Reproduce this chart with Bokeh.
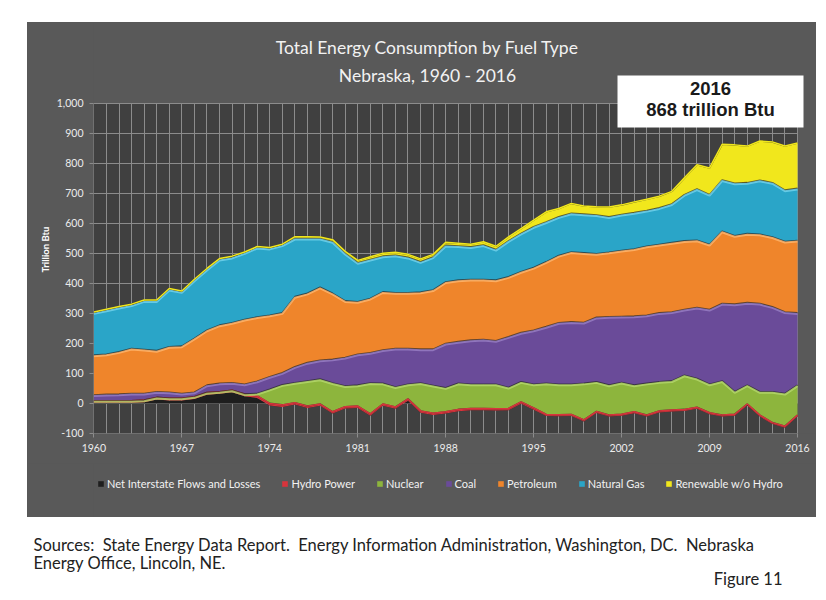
import numpy as np
from bokeh.plotting import figure
from bokeh.models import (ColumnDataSource, FixedTicker, NumeralTickFormatter, Label, Title,
                          BoxAnnotation, Legend, LegendItem, Range1d, Spacer)
from bokeh.layouts import column, row
from bokeh.embed import file_html
from bokeh.resources import INLINE

# ---------------- data (trillion Btu) ----------------
years = list(range(1960, 2017))
x_tick_years = [1960, 1967, 1974, 1981, 1988, 1995, 2002, 2009, 2016]
y_ticks = list(range(-100, 1001, 100))

net_interstate = [2, 2, 2, 2, 4, 13, 10, 10, 15, 29, 32, 37, 24, 18, -7, -12, -4, -15, -8, -34,
                  -17, -15, -41, -8, -18, 9, -31, -39, -34, -26, -23, -23, -24, -23, -1, -21, -42, -43, -42, -60,
                  -32, -44, -41, -33, -44, -30, -27, -25, -18, -36, -44, -41, -7, -44, -69, -81, -44]
hydro = [7, 7, 7, 7, 7, 7, 7, 7, 7, 7, 7, 7, 7, 7, 7, 7, 6, 6, 6, 6,
         6, 6, 6, 6, 6, 6, 6, 6, 6, 6, 6, 6, 6, 6, 6, 6, 5, 5, 5, 5,
         5, 5, 5, 5, 5, 5, 5, 5, 5, 5, 5, 5, 5, 5, 5, 5, 5]
nuclear = [0, 0, 0, 0, 0, 0, 0, 0, 0, 0, 0, 0, 0, 8, 47, 67, 67, 84, 83, 96,
           69, 70, 103, 69, 67, 49, 93, 93, 80, 87, 81, 81, 82, 70, 67, 79, 104, 102, 101, 122,
           99, 100, 106, 89, 106, 97, 97, 114, 96, 95, 114, 75, 63, 78, 103, 109, 100]
coal = [19, 21, 22, 24, 22, 19, 20, 16, 15, 25, 28, 25, 33, 41, 42, 40, 53, 61, 63, 79,
        95, 103, 101, 111, 128, 119, 113, 121, 148, 139, 147, 149, 145, 169, 164, 180, 189, 205, 208, 203,
        215, 228, 220, 230, 227, 230, 230, 219, 237, 249, 258, 292, 275, 294, 283, 272, 241]
petroleum = [133, 134, 141, 150, 147, 137, 152, 158, 180, 183, 194, 200, 216, 214, 205, 200, 234, 231, 243, 220,
             189, 175, 181, 194, 186, 186, 190, 197, 205, 205, 202, 200, 202, 200, 203, 209, 216, 224, 233, 232,
             212, 215, 220, 224, 230, 228, 231, 229, 224, 217, 241, 228, 230, 231, 233, 235, 241]
natural_gas = [141, 147, 148, 145, 162, 166, 191, 181, 194, 203, 219, 218, 222, 232, 223, 226, 194, 183, 163, 172,
               158, 130, 130, 119, 125, 118, 101, 110, 122, 114, 109, 115, 102, 120, 128, 136, 133, 129, 129, 129,
               129, 118, 120, 121, 119, 122, 129, 154, 171, 166, 171, 175, 170, 180, 181, 171, 174]
renewable = [3, 3, 3, 3, 3, 3, 3, 3, 3, 3, 3, 4, 3, 3, 3, 3, 6, 6, 5, 7,
             7, 8, 9, 10, 10, 10, 10, 9, 10, 9, 9, 11, 11, 13, 16, 22, 34, 28, 33, 27,
             28, 33, 32, 36, 38, 39, 42, 56, 81, 89, 119, 128, 122, 131, 136, 147, 151]

series_names = ["Net Interstate Flows and Losses", "Hydro Power", "Nuclear", "Coal",
                "Petroleum", "Natural Gas", "Renewable w/o Hydro"]
keys = ["net", "hydro", "nuclear", "coal", "petroleum", "gas", "renew"]
colors = ["#1e1e1e", "#d8343c", "#8db53d", "#6a4b99", "#ef852b", "#2aa5c8", "#f1e71c"]
highlights = [None, "#f08080", "#b7da6e", "#9a7fc6", "#ffb870", "#74d4ee", "#fff36a"]

data = dict(year=years, net=net_interstate, hydro=hydro, nuclear=nuclear, coal=coal,
            petroleum=petroleum, gas=natural_gas, renew=renewable)
cum = np.cumsum(np.array([data[k] for k in keys], dtype=float), axis=0)
for i, k in enumerate(keys):
    data["top_" + k] = cum[i]
    data["hl_" + k] = cum[i] - 3.5
src = ColumnDataSource(data)

GREY = "#595959"

# ---------------- geometry (pixels inside the grey panel) ----------------
W = 789
left_b, bottom_b = 66, 30
plot_top_px, plot_bot_px = 81, 411          # plot area top/bottom, from panel top
H = plot_bot_px + bottom_b
plot_w = 704                                # pixel width of 1960..2016
upp = (y_ticks[-1] - y_ticks[0]) / (plot_bot_px - plot_top_px)   # y units per pixel
y_start = y_ticks[0] - 0.3
y_end = y_ticks[-1] + plot_top_px * upp
xpp = (years[-1] - years[0]) / plot_w
x_end = years[0] + (W - left_b) * xpp

p = figure(width=W, height=H, x_range=Range1d(years[0] - 0.03, x_end),
           y_range=Range1d(y_start, y_end),
           output_backend="svg", toolbar_location=None,
           min_border_left=left_b, min_border_right=0, min_border_top=0,
           min_border_bottom=bottom_b)
p.background_fill_color = GREY
p.border_fill_color = GREY
p.outline_line_color = None

# dark plot area
p.add_layout(BoxAnnotation(left=years[0], right=years[-1], bottom=y_ticks[0], top=y_ticks[-1],
                           fill_color="#404040", fill_alpha=1.0, line_color=None, level="image"))

grid_col = "#8c8c8c"
p.ygrid.ticker = FixedTicker(ticks=y_ticks)
p.xgrid.ticker = FixedTicker(ticks=years)
p.grid.grid_line_color = grid_col
p.grid.grid_line_width = 1
p.xgrid.cross_bounds = (y_ticks[0], y_ticks[-1])
p.ygrid.cross_bounds = (years[0], years[-1])

renderers = p.varea_stack(stackers=keys, x="year", source=src, color=colors)

# bevel-like edges on each layer
for i, k in enumerate(keys):
    if k == "net":
        continue
    p.line(x="year", y="top_" + k, source=src, line_color="#2a2a2a", line_width=1.6, line_alpha=0.7)
    if k in ("hydro", "renew"):
        p.line(x="year", y="top_" + k, source=src, line_color=colors[i], line_width=1.5)
    else:
        p.line(x="year", y="hl_" + k, source=src, line_color=highlights[i], line_width=2, line_alpha=0.8)

p.xaxis.ticker = FixedTicker(ticks=x_tick_years)
p.yaxis.ticker = FixedTicker(ticks=y_ticks)
p.yaxis.bounds = (y_ticks[0], y_ticks[-1])
p.yaxis.formatter = NumeralTickFormatter(format="0,0")
for ax in (p.xaxis[0], p.yaxis[0]):
    ax.axis_line_color = None
    ax.major_tick_line_color = grid_col
    ax.major_tick_out = 4
    ax.major_tick_in = 0
    ax.minor_tick_line_color = None
    ax.major_label_standoff = 6
    ax.major_label_text_color = "#ececec"
    ax.major_label_text_font = "Lato"
    ax.major_label_text_font_size = "10.5px"

# y-axis title, placed in the left panel beside the tick labels
p.add_layout(Title(text="Trillion Btu", align="left", offset=161, standoff=6,
                   text_font="Lato", text_font_style="bold", text_font_size="9.5px",
                   text_color="#ffffff"), "left")

# screen units are relative to the frame's bottom-left corner
def fy(px_from_top):
    return plot_bot_px - px_from_top

p.add_layout(Label(x=334, y=fy(25), x_units="screen", y_units="screen",
                   text="Total Energy Consumption by Fuel Type", text_align="center",
                   text_baseline="middle", text_font="Lato", text_font_size="17.5px",
                   text_color="#f2f2f2"))
p.add_layout(Label(x=334, y=fy(53), x_units="screen", y_units="screen",
                   text="Nebraska, 1960 - 2016", text_align="center",
                   text_baseline="middle", text_font="Lato", text_font_size="17.5px",
                   text_color="#f2f2f2"))

# callout box
p.add_layout(BoxAnnotation(left=524, right=710, bottom=fy(105), top=fy(53),
                           left_units="screen", right_units="screen",
                           top_units="screen", bottom_units="screen",
                           fill_color="white", fill_alpha=1.0, line_color=None, level="guide"))
p.add_layout(Label(x=617, y=fy(66), x_units="screen", y_units="screen", text="2016",
                   text_align="center", text_baseline="middle", text_font="Liberation Sans",
                   text_font_style="bold", text_font_size="18.5px", text_color="#1a1a1a"))
p.add_layout(Label(x=617, y=fy(87), x_units="screen", y_units="screen", text="868 trillion Btu",
                   text_align="center", text_baseline="middle", text_font="Liberation Sans",
                   text_font_style="bold", text_font_size="18.5px", text_color="#1a1a1a"))

# ---------------- legend strip (rest of the grey panel) ----------------
LH = 54
lg = figure(width=W, height=LH, x_range=Range1d(0, W - left_b), y_range=Range1d(0, LH),
            output_backend="svg", toolbar_location=None, min_border=0)
lg.axis.visible = False
lg.grid.visible = False
lg.outline_line_color = None
lg.background_fill_color = GREY
lg.border_fill_color = GREY
# same series drawn here only as legend sources (their years lie outside this strip's range)
proxies = [lg.varea(x="year", y1=0, y2=k, source=src, color=c) for k, c in zip(keys, colors)]
items = [LegendItem(label=n, renderers=[r]) for n, r in zip(series_names, proxies)]
legend = Legend(items=items, orientation="horizontal", location=(4, 27),
                background_fill_alpha=0, border_line_color=None,
                label_text_color="#f2f2f2", label_text_font="Lato", label_text_font_size="11px",
                glyph_width=7, glyph_height=7, label_standoff=3, spacing=21,
                padding=0, margin=0, label_height=12)
lg.add_layout(legend, "center")

# ---------------- source notes ----------------
s = figure(width=820, height=75, x_range=Range1d(0, 820), y_range=Range1d(0, 75),
           output_backend="svg", toolbar_location=None, min_border=0)
s.axis.visible = False
s.grid.visible = False
s.outline_line_color = None
s.background_fill_color = "white"
s.border_fill_color = "white"
s.add_layout(Label(x=33, y=48, text="Sources:\u00a0 State Energy Data Report.\u00a0 Energy Information Administration, Washington, DC.\u00a0 Nebraska",
                   text_baseline="middle", text_font="Lato", text_font_size="16.5px", text_color="#222222"))
s.add_layout(Label(x=33, y=30, text="Energy Office, Lincoln, NE.",
                   text_baseline="middle", text_font="Lato", text_font_size="16.5px", text_color="#222222"))
s.add_layout(Label(x=782, y=14, text="Figure 11", text_align="right",
                   text_baseline="middle", text_font="Lato", text_font_size="16.5px", text_color="#222222"))

panel = column(p, lg, styles={"background-color": GREY})
layout = column(Spacer(height=22), row(Spacer(width=27), panel), s)
open("out.html", "w").write(file_html(layout, INLINE))
